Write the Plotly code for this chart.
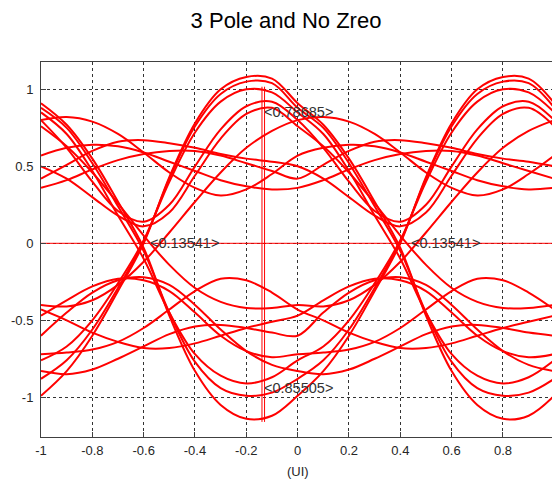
import plotly.graph_objects as go

# Sample positions (UI) of one eye segment
ui = [-1.0, -0.9, -0.8, -0.7, -0.6, -0.5, -0.4, -0.3, -0.2, -0.1, 0.0]

# Rising transitions
rise_1 = [-0.99, -0.83, -0.60, -0.31, 0.00, 0.43, 0.78, 1.00, 1.08, 1.07, 0.91]
rise_2 = [-0.88, -0.76, -0.56, -0.29, 0.01, 0.42, 0.76, 0.97, 1.05, 1.04, 0.88]
rise_3 = [-0.76, -0.67, -0.50, -0.26, 0.02, 0.40, 0.72, 0.92, 1.00, 0.98, 0.85]
rise_slow = [-0.40, -0.41, -0.37, -0.27, -0.12, 0.07, 0.27, 0.46, 0.62, 0.73, 0.80]

# Falling transitions
fall_1 = [0.91, 0.77, 0.55, 0.27, -0.03, -0.47, -0.83, -1.05, -1.14, -1.12, -0.99]
fall_2 = [0.88, 0.75, 0.52, 0.24, -0.05, -0.45, -0.77, -0.94, -0.99, -0.97, -0.88]
fall_3 = [0.85, 0.71, 0.47, 0.18, -0.10, -0.45, -0.72, -0.86, -0.91, -0.87, -0.76]
fall_slow = [0.76, 0.63, 0.46, 0.26, 0.05, -0.14, -0.29, -0.38, -0.42, -0.42, -0.40]

# Segments staying high
high_dip_1 = [0.50, 0.42, 0.30, 0.18, 0.11, 0.20, 0.44, 0.68, 0.84, 0.88, 0.76]
high_dip_2 = [0.80, 0.62, 0.40, 0.21, 0.14, 0.25, 0.50, 0.74, 0.89, 0.92, 0.80]
high_dome = [0.80, 0.82, 0.79, 0.71, 0.59, 0.46, 0.36, 0.31, 0.35, 0.45, 0.57]
high_arch_1 = [0.42, 0.51, 0.60, 0.66, 0.67, 0.65, 0.62, 0.58, 0.55, 0.53, 0.50]
high_arch_2 = [0.36, 0.41, 0.48, 0.54, 0.58, 0.60, 0.60, 0.57, 0.52, 0.47, 0.42]
high_arch_3 = [0.57, 0.62, 0.64, 0.63, 0.59, 0.53, 0.47, 0.41, 0.37, 0.35, 0.36]

# Segments staying low
low_bump_1 = [-0.60, -0.45, -0.32, -0.24, -0.22, -0.27, -0.40, -0.56, -0.70, -0.79, -0.83]
low_bump_2 = [-0.47, -0.37, -0.28, -0.23, -0.24, -0.31, -0.45, -0.60, -0.70, -0.74, -0.72]
low_late_bump = [-0.72, -0.71, -0.69, -0.64, -0.55, -0.43, -0.31, -0.23, -0.24, -0.32, -0.43]
low_dish = [-0.83, -0.85, -0.82, -0.75, -0.67, -0.59, -0.54, -0.53, -0.55, -0.58, -0.60]
low_sag = [-0.43, -0.50, -0.58, -0.64, -0.68, -0.68, -0.65, -0.60, -0.55, -0.51, -0.47]

# Each two-UI trace: first segment on [-1, 0], following segment on [0, 1]
traces_2ui = [
    (rise_1, fall_1), (rise_2, fall_2), (rise_3, fall_3),
    (high_dip_2, high_dip_2), (high_dip_1, fall_slow), (rise_slow, high_dome),
    (high_dome, high_arch_3), (high_arch_1, high_dip_1), (high_arch_2, high_arch_1),
    (high_arch_3, high_arch_2),
    (fall_1, rise_1), (fall_2, rise_2), (fall_3, rise_3),
    (low_bump_1, low_dish), (low_bump_2, low_late_bump), (low_late_bump, low_sag),
    (low_sag, low_bump_2), (low_dish, low_bump_1), (fall_slow, rise_slow),
]

# Reference lines and marker cursors
zero_line_x = [-1.0, 1.0]
zero_line_y = [0.0, 0.0]
cursor_x = [-0.139, -0.129]
cursor_y = [1.017, -1.16]

# Measurement labels
label_text = ["<0.78685>", "<0.13541>", "<0.13541>", "<0.85505>"]
label_x = [-0.137, -0.585, 0.432, -0.137]
label_y = [0.852, 0.0, 0.0, -0.94]

x_ticks = [-1, -0.8, -0.6, -0.4, -0.2, 0, 0.2, 0.4, 0.6, 0.8, 1]
x_tick_text = ["-1", "-0.8", "-0.6", "-0.4", "-0.2", "0", "0.2", "0.4", "0.6", "0.8", "1"]
y_ticks = [-1, -0.5, 0, 0.5, 1]
y_tick_text = ["-1", "-0.5", "0", "0.5", "1"]

RED = "#ff0000"
AXIS = "#404040"
FONT = "Liberation Sans, Arial, sans-serif"

fig = go.Figure()

fig.add_trace(go.Scatter(x=zero_line_x, y=zero_line_y, mode="lines",
                         line=dict(color=RED, width=1), hoverinfo="skip", showlegend=False))

x_2ui = ui + [u + 1.0 for u in ui[1:]]
for first, second in traces_2ui:
    fig.add_trace(go.Scatter(
        x=x_2ui, y=first + second[1:], mode="lines",
        line=dict(color=RED, width=2, shape="spline", smoothing=1.0),
        hoverinfo="skip", showlegend=False,
    ))

for cx in cursor_x:
    fig.add_trace(go.Scatter(x=[cx, cx], y=cursor_y, mode="lines",
                             line=dict(color=RED, width=1), hoverinfo="skip", showlegend=False))

for txt, lx, ly in zip(label_text, label_x, label_y):
    fig.add_annotation(x=lx, y=ly, xref="x", yref="y", text=txt, showarrow=False,
                       xanchor="left", yanchor="middle",
                       font=dict(family=FONT, size=14.5, color="#333333"))

# x-axis caption
fig.add_annotation(x=0, y=-0.0907, xref="x", yref="paper", text="(UI)", showarrow=False,
                   xanchor="center", yanchor="middle",
                   font=dict(family=FONT, size=13, color="#262626"))

axis_common = dict(
    showgrid=True, gridcolor="#333333", gridwidth=1, griddash="3px,3px",
    zeroline=False, showline=True, linecolor=AXIS, linewidth=1,
    ticks="inside", ticklen=5, tickcolor=AXIS,
    tickfont=dict(family=FONT, size=13, color="#262626"),
)

fig.update_layout(
    width=552, height=482,
    margin=dict(l=41, r=0, t=62, b=45),
    paper_bgcolor="white", plot_bgcolor="white",
    title=dict(text="3 Pole and No Zreo", x=286 / 552, xanchor="center",
               y=1 - 20 / 482, yanchor="middle", yref="container",
               font=dict(family=FONT, size=22, color="black")),
    xaxis=dict(range=[-1, 0.991], tickvals=x_ticks, ticktext=x_tick_text,
               mirror=True, ticklabelstandoff=1, **axis_common),
    yaxis=dict(range=[-1.258, 1.1775], tickvals=y_ticks, ticktext=y_tick_text,
               mirror=False, ticklabelstandoff=4, **axis_common),
    showlegend=False,
)

fig.write_html("out.html")
